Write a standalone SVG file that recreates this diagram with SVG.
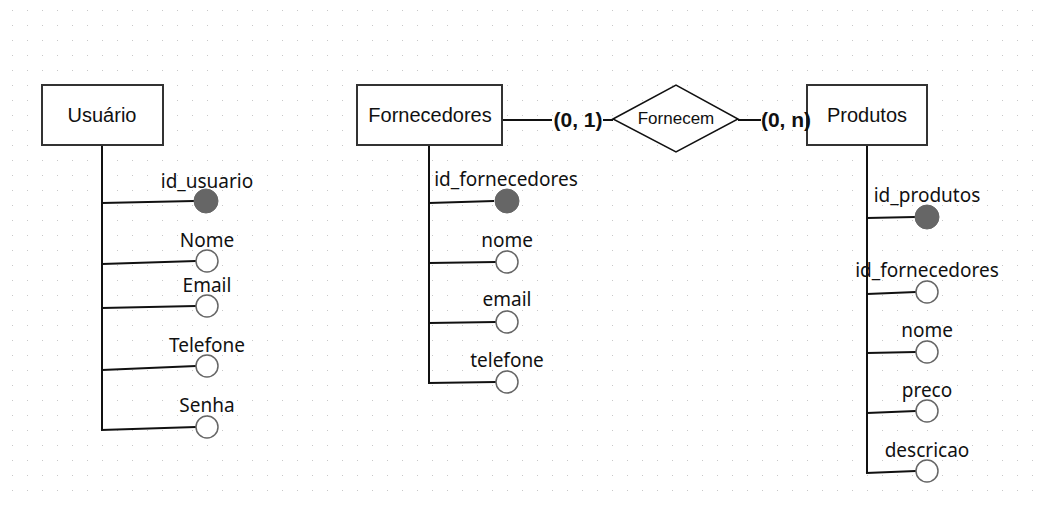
<svg xmlns="http://www.w3.org/2000/svg" width="1042" height="505" viewBox="0 0 1042 505">
<defs>
<pattern id="grid" x="0" y="0" width="15" height="15" patternUnits="userSpaceOnUse">
<rect x="12" y="10" width="1" height="1" fill="#c8c8c8"/>
</pattern>
<style>
.ent{fill:#fff;stroke:#333;stroke-width:2}
.et{font-family:"Liberation Sans",Arial,sans-serif;font-size:20px;fill:#111;text-anchor:middle}
.rt{font-family:"Liberation Sans",Arial,sans-serif;font-size:17px;fill:#111;text-anchor:middle}
.card{font-family:"Liberation Sans",Arial,sans-serif;font-size:21px;font-weight:bold;fill:#111;text-anchor:middle}
.at{font-family:"Noto Sans","Open Sans",sans-serif;font-size:19px;fill:#111;text-anchor:middle}
.ln{stroke:#111;stroke-width:2;fill:none}
.op{fill:#fff;stroke:#666;stroke-width:1.5}
.pk{fill:#666;stroke:#666;stroke-width:1}
</style>
</defs>
<rect width="1042" height="505" fill="#fff"/>
<rect width="1042" height="505" fill="url(#grid)"/>
<g id="connectors">
<line class="ln" x1="502" y1="120" x2="552" y2="120"/>
<line class="ln" x1="603" y1="120" x2="613" y2="120"/>
<line class="ln" x1="738" y1="120" x2="761" y2="120"/>
<line class="ln" x1="102" y1="145" x2="102" y2="430"/>
<line class="ln" x1="102" y1="203" x2="194" y2="201"/>
<line class="ln" x1="102" y1="264" x2="196" y2="261"/>
<line class="ln" x1="102" y1="308" x2="196" y2="306"/>
<line class="ln" x1="102" y1="370" x2="196" y2="366"/>
<line class="ln" x1="101" y1="430" x2="196" y2="427"/>
<line class="ln" x1="429" y1="145" x2="429" y2="383"/>
<line class="ln" x1="429" y1="203" x2="494" y2="201"/>
<line class="ln" x1="429" y1="263" x2="496" y2="262"/>
<line class="ln" x1="429" y1="323" x2="496" y2="322"/>
<line class="ln" x1="428" y1="383" x2="496" y2="382"/>
<line class="ln" x1="867" y1="145" x2="867" y2="473"/>
<line class="ln" x1="867" y1="218" x2="915" y2="217"/>
<line class="ln" x1="867" y1="294" x2="916" y2="292"/>
<line class="ln" x1="867" y1="353" x2="916" y2="352"/>
<line class="ln" x1="867" y1="413" x2="916" y2="411"/>
<line class="ln" x1="866" y1="473" x2="916" y2="471"/>
</g>
<g id="usuario">
<rect class="ent" x="42" y="85" width="121" height="60"/>
<text class="et" x="102" y="122">Usuário</text>
</g>
<g id="fornecedores">
<rect class="ent" x="357" y="85" width="145" height="60"/>
<text class="et" x="430" y="122">Fornecedores</text>
</g>
<g id="produtos">
<rect class="ent" x="807" y="85" width="120" height="60"/>
<text class="et" x="867" y="122">Produtos</text>
</g>
<g id="fornecem">
<polygon points="613,119 676,85 738,119 676,152" fill="#fff" stroke="#111" stroke-width="1.5"/>
<text class="rt" x="676" y="124">Fornecem</text>
</g>
<g id="card-01"><text class="card" x="578" y="127">(0, 1)</text></g>
<g id="card-0n"><text class="card" x="786" y="127">(0, n)</text></g>
<g id="attr-id_usuario"><circle class="pk" cx="206" cy="201" r="12"/><text class="at" x="207" y="188">id_usuario</text></g>
<g id="attr-nome-u"><circle class="op" cx="207" cy="261" r="11"/><text class="at" x="207" y="247">Nome</text></g>
<g id="attr-email-u"><circle class="op" cx="207" cy="306" r="11"/><text class="at" x="207" y="292">Email</text></g>
<g id="attr-telefone-u"><circle class="op" cx="207" cy="366" r="11"/><text class="at" x="207" y="352">Telefone</text></g>
<g id="attr-senha-u"><circle class="op" cx="207" cy="427" r="11"/><text class="at" x="207" y="412">Senha</text></g>
<g id="attr-id_fornecedores"><circle class="pk" cx="507" cy="201" r="12"/><text class="at" x="506" y="186">id_fornecedores</text></g>
<g id="attr-nome-f"><circle class="op" cx="507" cy="262" r="11"/><text class="at" x="507" y="247">nome</text></g>
<g id="attr-email-f"><circle class="op" cx="507" cy="322" r="11"/><text class="at" x="507" y="306">email</text></g>
<g id="attr-telefone-f"><circle class="op" cx="507" cy="382" r="11"/><text class="at" x="507" y="367">telefone</text></g>
<g id="attr-id_produtos"><circle class="pk" cx="927" cy="217" r="12"/><text class="at" x="927" y="202">id_produtos</text></g>
<g id="attr-id_fornecedores-p"><circle class="op" cx="927" cy="292" r="11"/><text class="at" x="927" y="277">id_fornecedores</text></g>
<g id="attr-nome-p"><circle class="op" cx="927" cy="352" r="11"/><text class="at" x="927" y="337">nome</text></g>
<g id="attr-preco-p"><circle class="op" cx="927" cy="411" r="11"/><text class="at" x="927" y="397">preco</text></g>
<g id="attr-descricao-p"><circle class="op" cx="927" cy="471" r="11"/><text class="at" x="927" y="457">descricao</text></g>
</svg>
